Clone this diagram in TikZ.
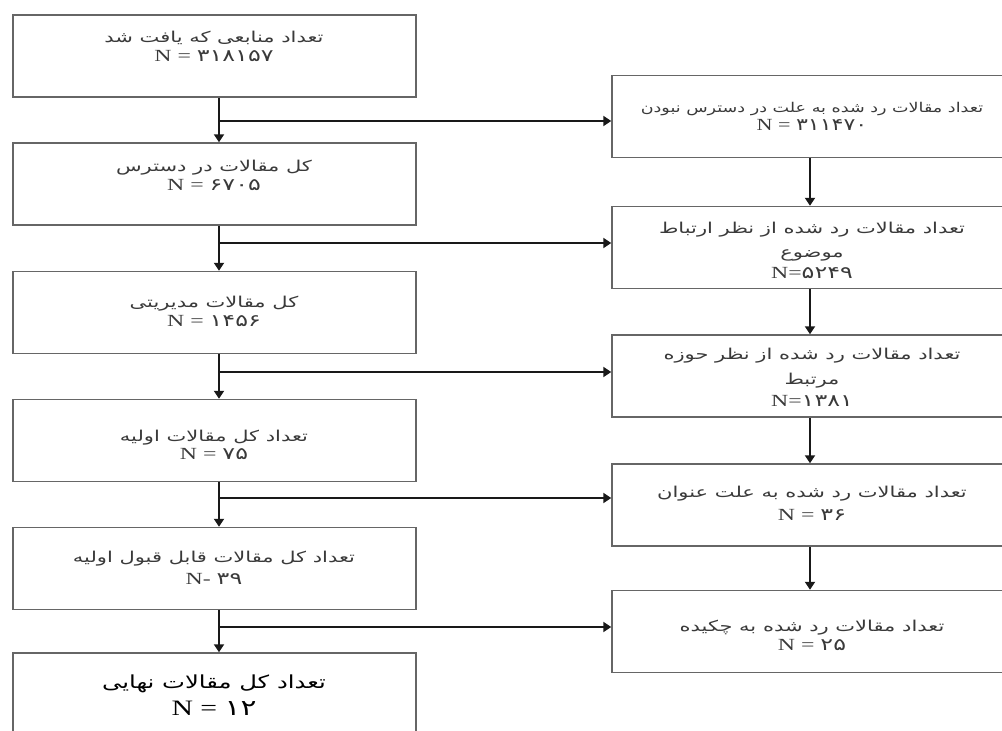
\documentclass[tikz,border=0pt]{standalone}
\usepackage{fontspec}
\usepackage{graphicx}
\usetikzlibrary{arrows.meta}
\TeXXeTstate=1
\newfontfamily\fa[Script=Arabic]{DejaVu Sans}
\newfontfamily\nf{Liberation Serif}
\newcommand\fl[1]{{\fa\beginR #1\endR}}
\newcommand\nl[2]{{\fontsize{17}{16}\selectfont\nf #1\fa #2}}
\newcommand\bnl[2]{{\fontsize{22}{25}\selectfont\nf #1\fa #2}}
\newcommand\tx[2][1.4]{\scalebox{#1}[1]{\renewcommand\arraystretch{1}\begin{tabular}{@{}c@{}}#2\end{tabular}}}
\definecolor{boxgray}{HTML}{666666}
\definecolor{txtgray}{HTML}{3A3A3A}
\tikzset{
  box/.style={draw=boxgray, line width=1.5pt, minimum height=82pt, inner sep=0pt},
  lbox/.style={box, minimum width=403pt},
  rbox/.style={box, minimum width=396pt},
  txt/.style={inner sep=0pt, text=txtgray, font=\fontsize{15}{16}\selectfont},
  smalltxt/.style={inner sep=0pt, text=txtgray, font=\fontsize{13.5}{16}\selectfont},
  bigtxt/.style={inner sep=0pt, text=black, font=\fontsize{18}{25}\selectfont},
  conn/.style={draw=black!90, line width=2.2pt, -{Triangle[length=8pt,width=10pt]}}
}
\begin{document}
\begin{tikzpicture}[x=1pt,y=-1pt]
\useasboundingbox (0,0) rectangle (1002,731);
\fill[white] (0,0) rectangle (1002,731);
\clip (0,0) rectangle (1002,731);
% left column boxes
\node[lbox] (L1) at (214.5,56) {};
\node[lbox] (L2) at (214.5,184) {};
\node[lbox] (L3) at (214.5,312.5) {};
\node[lbox] (L4) at (214.5,440.5) {};
\node[lbox] (L5) at (214.5,568.5) {};
\node[lbox] (L6) at (214.5,694) {};
% right column boxes
\node[rbox] (R1) at (810,116.5) {};
\node[rbox] (R2) at (810,247.5) {};
\node[rbox] (R3) at (810,376) {};
\node[rbox] (R4) at (810,505) {};
\node[rbox] (R5) at (810,631.5) {};
% texts
\node[txt] (T1) at (214,49) {\tx{\fl{تعداد منابعی که یافت شد}\\[3pt] \nl{N = }{۳۱۸۱۵۷}}};
\node[txt] (T2) at (214,178) {\tx{\fl{کل مقالات در دسترس}\\[3pt] \nl{N = }{۶۷۰۵}}};
\node[txt] (T3) at (214,314) {\tx{\fl{کل مقالات مدیریتی}\\[3pt] \nl{N = }{۱۴۵۶}}};
\node[txt] (T4) at (214,447) {\tx{\fl{تعداد کل مقالات اولیه}\\[2pt] \nl{N = }{۷۵}}};
\node[txt] (T5) at (214,570) {\tx{\fl{تعداد کل مقالات قابل قبول اولیه}\\[6pt] \nl{N- }{۳۹}}};
\node[bigtxt] (T6) at (214,697) {\tx[1.35]{\fl{تعداد کل مقالات نهایی}\\[2pt] \bnl{N = }{۱۲}}};
\node[smalltxt] (U1) at (812,118) {\tx[1.3]{\fl{تعداد مقالات رد شده به علت در دسترس نبودن}\\[2pt] \nl{N = }{۳۱۱۴۷۰}}};
\node[txt] (U2) at (812,253) {\tx{\fl{تعداد مقالات رد شده از نظر ارتباط}\\[8pt] \fl{موضوع}\\[5pt] \nl{N=}{۵۲۴۹}}};
\node[txt] (U3) at (812,380) {\tx{\fl{تعداد مقالات رد شده از نظر حوزه}\\[9pt] \fl{مرتبط}\\[6pt] \nl{N=}{۱۳۸۱}}};
\node[txt] (U4) at (812,506) {\tx{\fl{تعداد مقالات رد شده به علت عنوان}\\[7pt] \nl{N = }{۳۶}}};
\node[txt] (U5) at (812,638) {\tx{\fl{تعداد مقالات رد شده به چکیده}\\[3pt] \nl{N = }{۲۵}}};
% branch points on the left trunk
\coordinate (b1) at (219,121);
\coordinate (b2) at (219,243);
\coordinate (b3) at (219,372);
\coordinate (b4) at (219,498);
\coordinate (b5) at (219,627);
% left trunk arrows
\draw[conn] (L1.south -| b1) -- (L2.north -| b1);
\draw[conn] (L2.south -| b1) -- (L3.north -| b1);
\draw[conn] (L3.south -| b1) -- (L4.north -| b1);
\draw[conn] (L4.south -| b1) -- (L5.north -| b1);
\draw[conn] (L5.south -| b1) -- (L6.north -| b1);
% branches
\draw[conn] (b1) -- (b1 -| R1.west);
\draw[conn] (b2) -- (b2 -| R2.west);
\draw[conn] (b3) -- (b3 -| R3.west);
\draw[conn] (b4) -- (b4 -| R4.west);
\draw[conn] (b5) -- (b5 -| R5.west);
% right trunk arrows
\draw[conn] (R1.south) -- (R2.north);
\draw[conn] (R2.south) -- (R3.north);
\draw[conn] (R3.south) -- (R4.north);
\draw[conn] (R4.south) -- (R5.north);
\end{tikzpicture}
\end{document}
